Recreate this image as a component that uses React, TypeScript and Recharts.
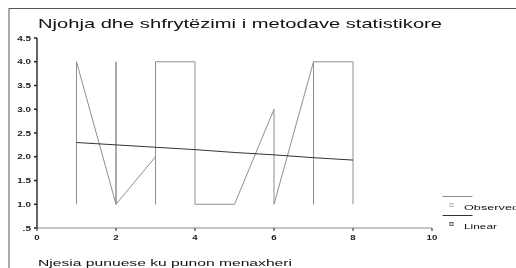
import React from "react"
import { LineChart, Line, XAxis, YAxis } from "recharts"

const title = "Njohja dhe shfrytëzimi i metodave statistikore"
const xLabel = "Njesia punuese ku punon menaxheri"

// observed values, in the order the source plotted them
const observedX = [1, 1, 2, 2, 2, 3, 3, 3, 4, 4, 5, 6, 6, 7, 7, 7, 8, 8]
const observedY = [1, 4, 1, 4, 1, 2, 1, 4, 4, 1, 1, 3, 1, 4, 1, 4, 4, 1]

// fitted linear values
const linearX = [1, 2, 3, 4, 5, 6, 7, 8]
const linearY = [2.3, 2.25, 2.2, 2.15, 2.09, 2.04, 1.98, 1.93]

const xTicks = [0, 2, 4, 6, 8, 10]
const yTicks = [0.5, 1, 1.5, 2, 2.5, 3, 3.5, 4, 4.5]

const observed = observedX.map((x, i) => ({ x, y: observedY[i] }))
const linear = linearX.map((x, i) => ({ x, y: linearY[i] }))

const OBS = "#8e8e8e"
const LIN = "#333"

function fmtY(v: number) {
  return v === 0.5 ? ".5" : v.toFixed(1)
}

// the source picture is stretched sideways, so labels are widened to match
function labelWidth(s: string) {
  let w = 0
  for (const ch of s) w += ch === "." ? 3 : 5.4
  return w
}

function TickText({ x, y, label, anchor, dy }: { x: number; y: number; label: string; anchor: string; dy: string }) {
  return (
    <text
      x={x}
      y={y}
      dy={dy}
      textAnchor={anchor}
      fontFamily="Liberation Sans"
      fontWeight="bold"
      fontSize={7}
      fill="#222"
      textLength={labelWidth(label)}
      lengthAdjust="spacingAndGlyphs"
    >
      {label}
    </text>
  )
}

const YTick = (props: any) => (
  <TickText x={props.x} y={props.y} label={fmtY(props.payload.value)} anchor="end" dy="0.36em" />
)
const XTick = (props: any) => (
  <TickText x={props.x} y={props.y} label={String(props.payload.value)} anchor="middle" dy="0.72em" />
)

export default function App() {
  return (
    <div style={{ position: "fixed", left: 8, top: 8, width: 508, height: 260 }}>
      <LineChart width={508} height={252} margin={{ top: 30, right: 84, bottom: 12, left: 0 }}>
        <XAxis
          type="number"
          dataKey="x"
          domain={[0, 10]}
          ticks={xTicks}
          height={20}
          tickSize={3}
          tickMargin={4}
          tick={XTick}
          stroke="#888"
          tickLine={{ stroke: "#222" }}
        />
        <XAxis xAxisId="top" type="number" orientation="top" domain={[0, 10]} height={0} tick={false} tickLine={false} stroke="#666" />
        <YAxis
          type="number"
          dataKey="y"
          domain={[0.5, 4.5]}
          ticks={yTicks}
          width={29}
          tickSize={3}
          tickMargin={3}
          tick={YTick}
          stroke={LIN}
          strokeWidth={1.5}
          tickLine={{ stroke: "#222" }}
        />
        <YAxis yAxisId="right" type="number" orientation="right" domain={[0.5, 4.5]} width={0} tick={false} tickLine={false} stroke={LIN} strokeWidth={1.5} />
        <Line data={observed} dataKey="y" name="Observed" stroke={OBS} strokeWidth={1} dot={false} isAnimationActive={false} />
        <Line data={linear} dataKey="y" name="Linear" stroke={LIN} strokeWidth={1} dot={false} isAnimationActive={false} />
      </LineChart>
      <svg
        width={508}
        height={260}
        style={{ position: "absolute", left: 0, top: 0, pointerEvents: "none" }}
      >
        <line x1={1} y1={0.5} x2={508} y2={0.5} stroke="#555" />
        <line x1={1} y1={0} x2={1} y2={260} stroke="#555" />
        <text x={30} y={19.7} fontFamily="Liberation Sans" fontSize={13} fill="#111" textLength={404} lengthAdjust="spacingAndGlyphs">
          {title}
        </text>
        <text x={30} y={257.5} fontFamily="Liberation Sans" fontSize={9} fill="#111" textLength={254} lengthAdjust="spacingAndGlyphs">
          {xLabel}
        </text>
        <line x1={434.5} y1={188.5} x2={464.5} y2={188.5} stroke={OBS} />
        <rect x={442} y={195.5} width={3} height={3} fill="none" stroke="#aaa" strokeWidth={0.8} />
        <text x={456} y={202} fontFamily="Liberation Sans" fontSize={8} fill="#111" textLength={55} lengthAdjust="spacingAndGlyphs">
          Observed
        </text>
        <line x1={434.5} y1={207.5} x2={464.5} y2={207.5} stroke={LIN} />
        <rect x={442} y={214.5} width={3} height={3} fill="none" stroke={LIN} strokeWidth={0.8} />
        <text x={456} y={220.5} fontFamily="Liberation Sans" fontSize={8} fill="#111" textLength={33} lengthAdjust="spacingAndGlyphs">
          Linear
        </text>
      </svg>
    </div>
  )
}
